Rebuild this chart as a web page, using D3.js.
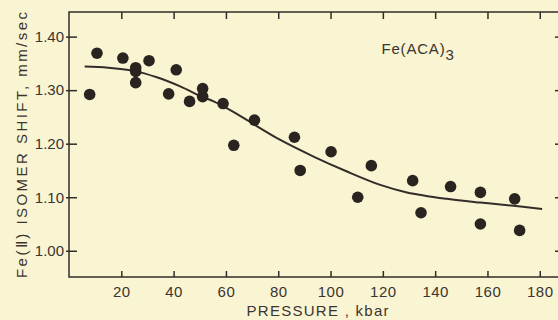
<!DOCTYPE html>
<html>
<head>
<meta charset="utf-8">
<script src="https://cdn.jsdelivr.net/npm/d3@7"></script>
<style>
  html, body { margin: 0; padding: 0; background: #f9f4d2; }
  svg { display: block; }
  text { font-family: "Liberation Sans", Arial, sans-serif; fill: #3b3430; }
</style>
</head>
<body>
<svg id="chart" width="558" height="320"></svg>
<script>
// ---- data ----
const pressure = [7.9, 10.7, 20.6, 25.5, 25.5, 25.5, 30.6, 38.1, 41.0, 46.1, 51.1, 51.1, 58.9, 63.0, 70.9,
                  86.2, 88.4, 100.2, 110.4, 115.6, 131.4, 134.6, 145.9, 157.3, 157.3, 170.4, 172.3];
const isomerShift = [1.292, 1.369, 1.360, 1.342, 1.335, 1.314, 1.355, 1.293, 1.338, 1.279, 1.303, 1.288, 1.275, 1.197, 1.244,
                     1.212, 1.150, 1.185, 1.100, 1.159, 1.131, 1.071, 1.120, 1.109, 1.050, 1.097, 1.038];
const curvePressure = [6.0, 15, 24.7, 33.6, 42.5, 50.2, 55.3, 63, 68.1, 80.8, 93.5, 106.3, 119, 129.2, 144.5, 157.3, 170, 180.9];
const curveShift = [1.344, 1.342, 1.336, 1.324, 1.307, 1.289, 1.279, 1.259, 1.244, 1.207, 1.176, 1.148, 1.123, 1.109, 1.097, 1.090, 1.084, 1.078];
const xTicks = [20, 40, 60, 80, 100, 120, 140, 160, 180];
const yTicks = [1.00, 1.10, 1.20, 1.30, 1.40];
const xTitle = "PRESSURE , kbar";
const yTitle = "Fe(\u2161) ISOMER SHIFT, mm/sec";
const annotation = "Fe(ACA)";
const annotationSub = "3";

// ---- layout ----
const mLeft = 69, mRight = 562, mTop = 12, mBottom = 277;
const ink = "#332c29";
const svg = d3.select("#chart");

const x = d3.scaleLinear().domain([0, 188.5]).range([mLeft, mRight]);
const y = d3.scaleLinear().domain([0.951, 1.446]).range([mBottom, mTop]);

// frame
svg.append("rect")
  .attr("x", mLeft).attr("y", mTop)
  .attr("width", mRight - mLeft).attr("height", mBottom - mTop)
  .attr("fill", "none").attr("stroke", ink).attr("stroke-width", 1.5);

// bottom axis
const gx = svg.append("g").attr("transform", `translate(0,${mBottom})`)
  .call(d3.axisBottom(x).tickValues(xTicks).tickFormat(d3.format("d"))
        .tickSizeInner(-6).tickSizeOuter(0).tickPadding(9));
gx.select(".domain").remove();
gx.selectAll(".tick line").attr("stroke", ink).attr("stroke-width", 1.5);
gx.selectAll(".tick text").style("font-size", "15px").attr("fill", "#3b3430").style("letter-spacing", "0.5px");

// top axis ticks
const gxt = svg.append("g").attr("transform", `translate(0,${mTop})`)
  .call(d3.axisTop(x).tickValues(xTicks).tickFormat("").tickSizeInner(-7).tickSizeOuter(0));
gxt.select(".domain").remove();
gxt.selectAll(".tick line").attr("stroke", ink).attr("stroke-width", 1.5);

// left axis
const gy = svg.append("g").attr("transform", `translate(${mLeft},0)`)
  .call(d3.axisLeft(y).tickValues(yTicks).tickFormat(d3.format(".2f"))
        .tickSizeInner(-8).tickSizeOuter(0).tickPadding(5));
gy.select(".domain").remove();
gy.selectAll(".tick line").attr("x1", -3).attr("stroke", ink).attr("stroke-width", 1.5);
gy.selectAll(".tick text").style("font-size", "15px").attr("fill", "#3b3430");

// right axis ticks
const gyr = svg.append("g").attr("transform", `translate(${mRight},0)`)
  .call(d3.axisRight(y).tickValues(yTicks).tickFormat("").tickSizeInner(-7).tickSizeOuter(0));
gyr.select(".domain").remove();
gyr.selectAll(".tick line").attr("stroke", ink).attr("stroke-width", 1.5);

// fitted curve
const line = d3.line().x(d => x(d[0])).y(d => y(d[1])).curve(d3.curveCatmullRom.alpha(0.5));
svg.append("path")
  .datum(d3.zip(curvePressure, curveShift))
  .attr("d", line)
  .attr("fill", "none").attr("stroke", ink).attr("stroke-width", 2);

// data points
svg.append("g").selectAll("circle")
  .data(d3.zip(pressure, isomerShift))
  .join("circle")
  .attr("cx", d => x(d[0])).attr("cy", d => y(d[1]))
  .attr("r", 5.8).attr("fill", "#2a2421");

// titles
svg.append("text")
  .attr("x", 246.5).attr("y", 316)
  .attr("textLength", 142).attr("lengthAdjust", "spacing")
  .style("font-size", "15px").text(xTitle);

svg.append("text")
  .attr("transform", "translate(27,278) rotate(-90)")
  .attr("x", 0).attr("y", 0)
  .attr("textLength", 266).attr("lengthAdjust", "spacing")
  .style("font-size", "15px").text(yTitle);

const ann = svg.append("text")
  .attr("x", 381.5).attr("y", 53.5)
  .style("font-size", "15px").style("letter-spacing", "0.8px");
ann.append("tspan").text(annotation);
ann.append("tspan").attr("dy", 6).text(annotationSub);
</script>
</body>
</html>
